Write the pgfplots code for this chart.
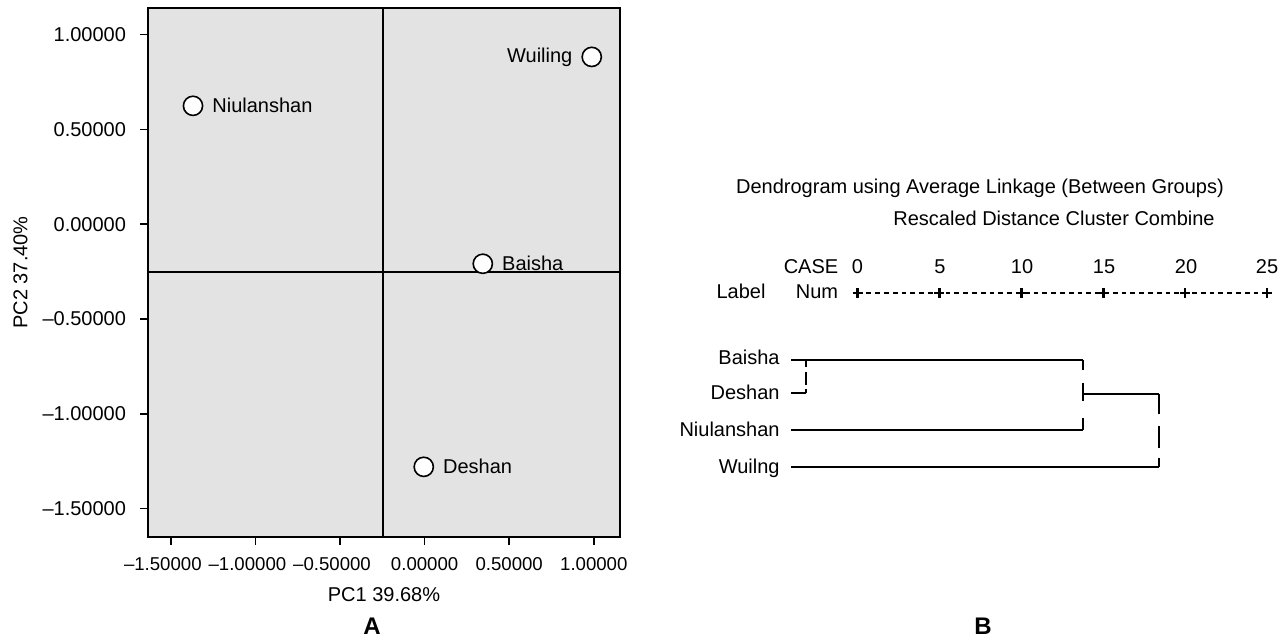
\documentclass[border=0pt]{standalone}
\usepackage{fontspec}
\setmainfont{Liberation Sans}
\usepackage{pgfplots}
\pgfplotsset{compat=1.18}
\definecolor{bg}{RGB}{227,227,227}
\begin{document}
\fontsize{10}{12}\selectfont
\begin{tikzpicture}
\path[use as bounding box] (0,0) rectangle (643pt,320.5pt);
% ---------- Panel A: PCA ----------
\begin{axis}[
  at={(74pt,52pt)}, anchor=south west,
  scale only axis, width=236pt, height=264.5pt,
  xmin=-1.635, xmax=1.155, ymin=-1.65, ymax=1.14,
  axis background/.style={fill=bg},
  axis line style={line width=1pt},
  tick align=outside, xtick pos=bottom, ytick pos=left,
  major tick length=4pt, tick style={line width=0.8pt, black},
  xtick={-1.5,-1,-0.5,0,0.5,1},
  xticklabels={\hspace*{-8pt}–1.50000,\hspace*{-8pt}–1.00000,\hspace*{-8pt}–0.50000,0.00000,0.50000,1.00000},
  ytick={-1.5,-1,-0.5,0,0.5,1},
  yticklabels={–1.50000,–1.00000,–0.50000,0.00000,0.50000,1.00000},
  xticklabel style={yshift=-2.5pt, font=\fontsize{9.3}{11}\selectfont},
  yticklabel style={xshift=-3.5pt},
  xlabel={PC1 39.68\%}, ylabel={PC2 37.40\%},
  xlabel style={at={(axis description cs:0.5,-0.108)}, anchor=center},
  ylabel style={at={(axis description cs:-0.27,0.5)}, anchor=center},
  clip=false,
]
\addplot[line width=0.9pt, black] coordinates {(-0.245,-1.65) (-0.245,1.14)};
\addplot[line width=0.9pt, black] coordinates {(-1.635,-0.252) (1.155,-0.252)};
\addplot[only marks, mark=*, mark size=4.8pt, mark options={fill=white, draw=black, line width=0.8pt}]
  coordinates {(0.988,0.882) (-1.369,0.624) (0.344,-0.209) (-0.005,-1.28)};
\node[anchor=west, inner sep=0, xshift=9.5pt] at (axis cs:-1.369,0.624) {Niulanshan};
\node[anchor=east, inner sep=0, xshift=-9.5pt] at (axis cs:0.988,0.882) {Wuiling};
\node[anchor=west, inner sep=0, xshift=9.5pt] at (axis cs:0.344,-0.209) {Baisha};
\node[anchor=west, inner sep=0, xshift=9.5pt] at (axis cs:-0.005,-1.28) {Deshan};
\end{axis}
% ---------- Panel B: dendrogram ----------
\begin{axis}[
  at={(350pt,0pt)}, anchor=south west,
  scale only axis, width=293pt, height=320.5pt,
  xmin=-9.615, xmax=26.16, ymin=0, ymax=641, y dir=reverse,
  hide axis, clip=false, unbounded coords=jump,
]
\addplot[black, line width=0.6pt, dash pattern=on 2.4pt off 2pt,
  mark=+, mark size=2.5pt, mark options={solid, line width=1.3pt}]
  coordinates {(0,293) (5,293) (10,293) (15,293) (20,293) (25,293)};
\addplot[black, line width=1pt] coordinates {(-4.06,360) (13.77,360)};
\addplot[black, line width=1pt] coordinates {(-4.06,393) (-3.14,393)};
\addplot[black, line width=1pt] coordinates {(-3.14,360) (-3.14,367) (-3.14,nan) (-3.14,372) (-3.14,385) (-3.14,nan) (-3.14,389) (-3.14,393)};
\addplot[black, line width=1pt] coordinates {(-4.06,430) (13.77,430)};
\addplot[black, line width=1pt] coordinates {(13.77,360) (13.77,370) (13.77,nan) (13.77,383) (13.77,401) (13.77,nan) (13.77,418) (13.77,430)};
\addplot[black, line width=1pt] coordinates {(13.77,394) (18.4,394)};
\addplot[black, line width=1pt] coordinates {(18.4,394) (18.4,414) (18.4,nan) (18.4,426) (18.4,448) (18.4,nan) (18.4,458) (18.4,467)};
\addplot[black, line width=1pt] coordinates {(-4.06,467) (18.4,467)};
\end{axis}
\begin{scope}[x=0.5pt,y=0.5pt]
\node[anchor=base, inner sep=0] at (980,641-194) {Dendrogram using Average Linkage (Between Groups)};
\node[anchor=base, inner sep=0] at (1054,641-226) {Rescaled Distance Cluster Combine};
\node[anchor=base, inner sep=0] at (811,641-274) {CASE};
\foreach \v/\px in {0/857.5,5/940,10/1022,15/1104,20/1186,25/1267}
  \node[anchor=base, inner sep=0] at (\px,641-274) {\v};
\node[anchor=base, inner sep=0] at (741,641-299) {Label};
\node[anchor=base, inner sep=0] at (817,641-299) {Num};
\node[anchor=base east, inner sep=0] at (780,641-365) {Baisha};
\node[anchor=base east, inner sep=0] at (780,641-400) {Deshan};
\node[anchor=base east, inner sep=0] at (780,641-437) {Niulanshan};
\node[anchor=base east, inner sep=0] at (780,641-474) {Wuilng};
\node[anchor=base, inner sep=0, font=\fontsize{12}{14}\selectfont\bfseries] at (372,641-635) {A};
\node[anchor=base, inner sep=0, font=\fontsize{12}{14}\selectfont\bfseries] at (983,641-635) {B};
\end{scope}
\end{tikzpicture}
\end{document}
